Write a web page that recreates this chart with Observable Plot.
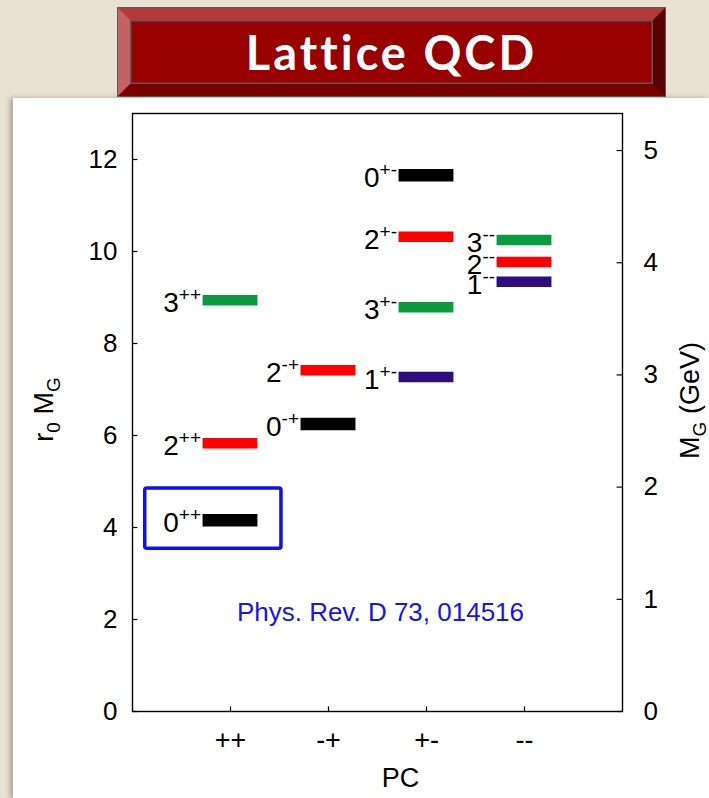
<!DOCTYPE html>
<html>
<head>
<meta charset="utf-8">
<script src="https://cdn.jsdelivr.net/npm/d3@7"></script>
<script src="https://cdn.jsdelivr.net/npm/@observablehq/plot@0.6"></script>
<style>
  html, body { margin: 0; padding: 0; }
  body { width: 709px; height: 798px; overflow: hidden; background: #e9e2d3; position: relative;
         font-family: "Liberation Sans", Arial, sans-serif; }
  #panel { position: absolute; left: 13px; top: 98px; width: 696px; height: 700px; background: #fff;
           box-shadow: -3px 0 5px rgba(0,0,0,0.28); }
  #banner { position: absolute; left: 118px; top: 8px; width: 523px; height: 64px;
            border-style: solid; border-width: 12px;
            border-color: #b23a3a #5a0000 #780000 #c26262;
            background: #990000; outline: 1.5px solid #5a5a5a;
            box-shadow: inset 0 0 0 1.5px #5a5a5a;
            display: flex; align-items: center; justify-content: center;
            color: #fff; font-family: Lato, "Open Sans", sans-serif; font-weight: bold;
            font-size: 47px; letter-spacing: 3px; z-index: 2; }
  #chart { position: absolute; left: 13px; top: 98px; }
  #chart svg { background: transparent; }
</style>
</head>
<body>
<div id="panel"></div>
<div id="banner">Lattice QCD</div>
<div id="chart"></div>
<script>
// ---- data ----
const pcLabels = ["++", "-+", "+-", "--"];
const stateJ   = [0, 2, 3, 0, 2, 1, 3, 2, 0, 1, 2, 3];
const statePC  = ["++", "++", "++", "-+", "-+", "+-", "+-", "+-", "+-", "--", "--", "--"];
const stateR0M = [4.16, 5.83, 8.94, 6.25, 7.42, 7.27, 8.79, 10.32, 11.66, 9.34, 9.77, 10.25];
const jDomain  = [0, 1, 2, 3];
const jColors  = ["#000000", "#2e0c80", "#ff0000", "#0c9a40"];
const r0Ticks  = [0, 2, 4, 6, 8, 10, 12];
const gevTicks = [0, 1, 2, 3, 4, 5];
const r0inv    = 0.410;           // GeV, conversion r0^-1
const refText  = ["Phys. Rev. D 73, 014516"];
const refPos   = [{x: 2.53, y: 2.15}];
const highlightBox = [{x1: 0.13, x2: 1.52, y1: 3.54, y2: 4.85}];

// ---- table ----
const states = stateJ.map((J, i) => ({J, pc: statePC[i], m: stateR0M[i], xi: pcLabels.indexOf(statePC[i]) + 1}));
const xTicks = pcLabels.map((d, i) => i + 1);
const half = 0.28;
const font = '"Liberation Sans", Arial, sans-serif';

const plot = Plot.plot({
  width: 696, height: 700,
  marginLeft: 119, marginRight: 87, marginTop: 15, marginBottom: 87,
  x: {domain: [0, 5]},
  y: {domain: [0, 13]},
  color: {type: "ordinal", domain: jDomain, range: jColors},
  style: {fontFamily: font, fontSize: "26px", color: "#000", background: "transparent"},
  marks: [
    Plot.axisX(xTicks, {anchor: "bottom", tickSize: 0, tickPadding: 18, fontSize: 27, tickFormat: i => pcLabels[i - 1], label: null}),
    Plot.axisY(r0Ticks, {anchor: "left", tickSize: 0, tickPadding: 15, fontSize: 26, label: null}),
    Plot.axisY(gevTicks.map(g => g / r0inv), {anchor: "right", tickSize: 0, tickPadding: 21, fontSize: 26,
      tickFormat: d => String(Math.round(d * r0inv)), label: null}),
    // inward ticks
    Plot.ruleX(xTicks, {x: d => d, y1: 0, y2: 0.1, stroke: "#000", strokeWidth: 1.2}),
    Plot.ruleY(r0Ticks, {y: d => d, x1: 0, x2: 0.055, stroke: "#000", strokeWidth: 1.2}),
    Plot.ruleY(gevTicks.map(g => g / r0inv), {y: d => d, x1: 5 - 0.055, x2: 5, stroke: "#000", strokeWidth: 1.2}),
    Plot.frame({stroke: "#000", strokeWidth: 1.4}),
    // bars
    Plot.ruleY(states.filter(d => d.J === 0), {y: "m", x1: d => d.xi - half, x2: d => d.xi + half, stroke: "J", strokeWidth: 12.5}),
    Plot.ruleY(states.filter(d => d.J !== 0), {y: "m", x1: d => d.xi - half, x2: d => d.xi + half, stroke: "J", strokeWidth: 10.5}),
    // labels
    Plot.text(states, {x: d => d.xi - half, y: "m", text: d => `${d.J}^{${d.pc}}`, textAnchor: "end",
      dx: -2, dy: 3, fontSize: 28, fill: "#000"}),
    // highlight
    Plot.rect(highlightBox, {x1: "x1", x2: "x2", y1: "y1", y2: "y2", fill: "none", stroke: "#1010ee", strokeWidth: 3.5, rx: 2}),
    Plot.text(refText, {x: (d, i) => refPos[i].x, y: (d, i) => refPos[i].y, text: d => d, fill: "#1515ee", fontSize: 26}),
    // axis titles
    Plot.text(["r_0 M_G"], {frameAnchor: "left", text: d => d, rotate: -90, textAnchor: "middle", lineAnchor: "middle",
      dx: -88, dy: -3, fontSize: 27}),
    Plot.text(["M_G (GeV)"], {frameAnchor: "right", text: d => d, rotate: -90, textAnchor: "middle", lineAnchor: "middle",
      dx: 68, dy: -12, fontSize: 27, letterSpacing: 2}),
    Plot.text(["PC"], {frameAnchor: "bottom", text: d => d, textAnchor: "middle", lineAnchor: "middle",
      dx: 23, dy: 67, fontSize: 27})
  ]
});

// turn ^{..} and _x markup into tspans (real text)
function richify(el) {
  const str = el.textContent;
  const re = /([_^])\{([^}]*)\}|([_^])(.)|([^_^]+)/g;
  let m, cur = 0;
  el.textContent = "";
  while ((m = re.exec(str))) {
    let kind = "", t;
    if (m[1]) { kind = m[1]; t = m[2]; }
    else if (m[3]) { kind = m[3]; t = m[4]; }
    else t = m[5];
    const target = kind === "^" ? -11 : kind === "_" ? 7 : 0;
    const ts = document.createElementNS("http://www.w3.org/2000/svg", "tspan");
    if (target !== cur) ts.setAttribute("dy", target - cur);
    if (kind) ts.setAttribute("font-size", "19");
    ts.textContent = t;
    el.appendChild(ts);
    cur = target;
  }
}
plot.querySelectorAll("text").forEach(el => { if (/[_^]/.test(el.textContent)) richify(el); });

document.getElementById("chart").appendChild(plot);
</script>
</body>
</html>
